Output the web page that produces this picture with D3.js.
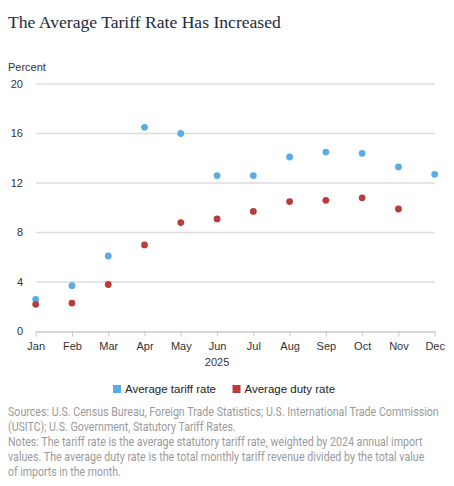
<!DOCTYPE html>
<html><head><meta charset="utf-8">
<script src="https://cdn.jsdelivr.net/npm/d3@7"></script>
<style>
html,body{margin:0;padding:0;background:#fff;}
svg{display:block;}
</style>
</head><body>
<script>
const months = ["Jan","Feb","Mar","Apr","May","Jun","Jul","Aug","Sep","Oct","Nov","Dec"];
const tariffRate = [2.6, 3.7, 6.1, 16.5, 16.0, 12.6, 12.6, 14.1, 14.5, 14.4, 13.3, 12.7];
const dutyRate = [2.2, 2.3, 3.8, 7.0, 8.8, 9.1, 9.7, 10.5, 10.6, 10.8, 9.9, null];
const yTicks = [0, 4, 8, 12, 16, 20];
const titleText = "The Average Tariff Rate Has Increased";
const yAxisLabel = "Percent";
const xAxisLabel = "2025";
const legendLabels = ["Average tariff rate", "Average duty rate"];
const seriesColors = ["#5aade3", "#b93c3c"];
const noteLines = [
  "Sources: U.S. Census Bureau, Foreign Trade Statistics; U.S. International Trade Commission",
  "(USITC); U.S. Government, Statutory Tariff Rates.",
  "Notes: The tariff rate is the average statutory tariff rate, weighted by 2024 annual import",
  "values. The average duty rate is the total monthly tariff revenue divided by the total value",
  "of imports in the month."
];
const noteWidths = [431, 228, 415, 417, 113];

const W = 454, H = 486;
const svg = d3.select("body").append("svg").attr("width", W).attr("height", H);

// Title
svg.append("text").attr("x", 8).attr("y", 28)
  .attr("font-family", "Liberation Serif, serif").attr("font-size", 17.6)
  .attr("fill", "#1b2b3c").text(titleText);

const x = d3.scalePoint().domain(months).range([35.7, 434.7]);
const y = d3.scaleLinear().domain([0, 20]).range([331.5, 84]);

// grid
const grid = svg.append("g");
grid.selectAll("line").data(yTicks.filter(d => d > 0)).join("line")
  .attr("x1", 36).attr("x2", 435)
  .attr("y1", d => y(d)).attr("y2", d => y(d))
  .attr("stroke", "#dcdcdc").attr("stroke-width", 1.3);

// y labels
svg.append("g").selectAll("text").data(yTicks).join("text")
  .attr("x", 23).attr("y", d => y(d)).attr("dy", "0.35em")
  .attr("text-anchor", "end")
  .attr("font-family", "Liberation Sans, Arial, sans-serif").attr("font-size", 11)
  .attr("fill", "#333").text(d => d);

svg.append("text").attr("x", 8).attr("y", 71)
  .attr("font-family", "Liberation Sans, Arial, sans-serif").attr("font-size", 11)
  .attr("fill", "#333").text(yAxisLabel);

// x axis
const xAxis = d3.axisBottom(x).tickSize(5).tickPadding(6);
const gx = svg.append("g").attr("transform", `translate(0,${y(0)})`).call(xAxis);
gx.select(".domain").attr("stroke", "#c8c8c8").attr("stroke-width", 1.3)
  .attr("d", `M36,0.5H435`);
gx.selectAll(".tick line").attr("stroke", "#c8c8c8");
gx.selectAll(".tick text").attr("font-family", "Liberation Sans, Arial, sans-serif")
  .attr("font-size", 11).attr("fill", "#333");

svg.append("text").attr("x", x("Jun")).attr("y", 366).attr("text-anchor", "middle")
  .attr("font-family", "Liberation Sans, Arial, sans-serif").attr("font-size", 11)
  .attr("fill", "#333").text(xAxisLabel);

// points
const series = [tariffRate, dutyRate];
series.forEach((vals, i) => {
  svg.append("g").selectAll("circle")
    .data(months.map((m, j) => ({m, v: vals[j]})).filter(d => d.v != null))
    .join("circle")
    .attr("cx", d => x(d.m)).attr("cy", d => y(d.v)).attr("r", 3.4)
    .attr("fill", seriesColors[i]);
});

// legend
const legX = [113, 232.5];
legendLabels.forEach((lab, i) => {
  svg.append("rect").attr("x", legX[i]).attr("y", 385).attr("width", 8).attr("height", 8)
    .attr("fill", seriesColors[i]);
  svg.append("text").attr("x", legX[i] + 12).attr("y", 393)
    .attr("font-family", "Liberation Sans, Arial, sans-serif").attr("font-size", 11.5)
    .attr("fill", "#222").text(lab);
});

// notes (condensed horizontally to match the reference's narrow face)
noteLines.forEach((t, i) => {
  const g = svg.append("g");
  const el = g.append("text").attr("x", 0).attr("y", 0)
    .attr("font-family", "Roboto, sans-serif")
    .attr("font-size", 12.5)
    .attr("fill", "#9a9a9a")
    .text(t);
  const natural = el.node().getComputedTextLength();
  const sx = noteWidths[i] / natural;
  g.attr("transform", `translate(8,${416 + i * 15}) scale(${sx},1)`);
});
</script>
</body></html>
